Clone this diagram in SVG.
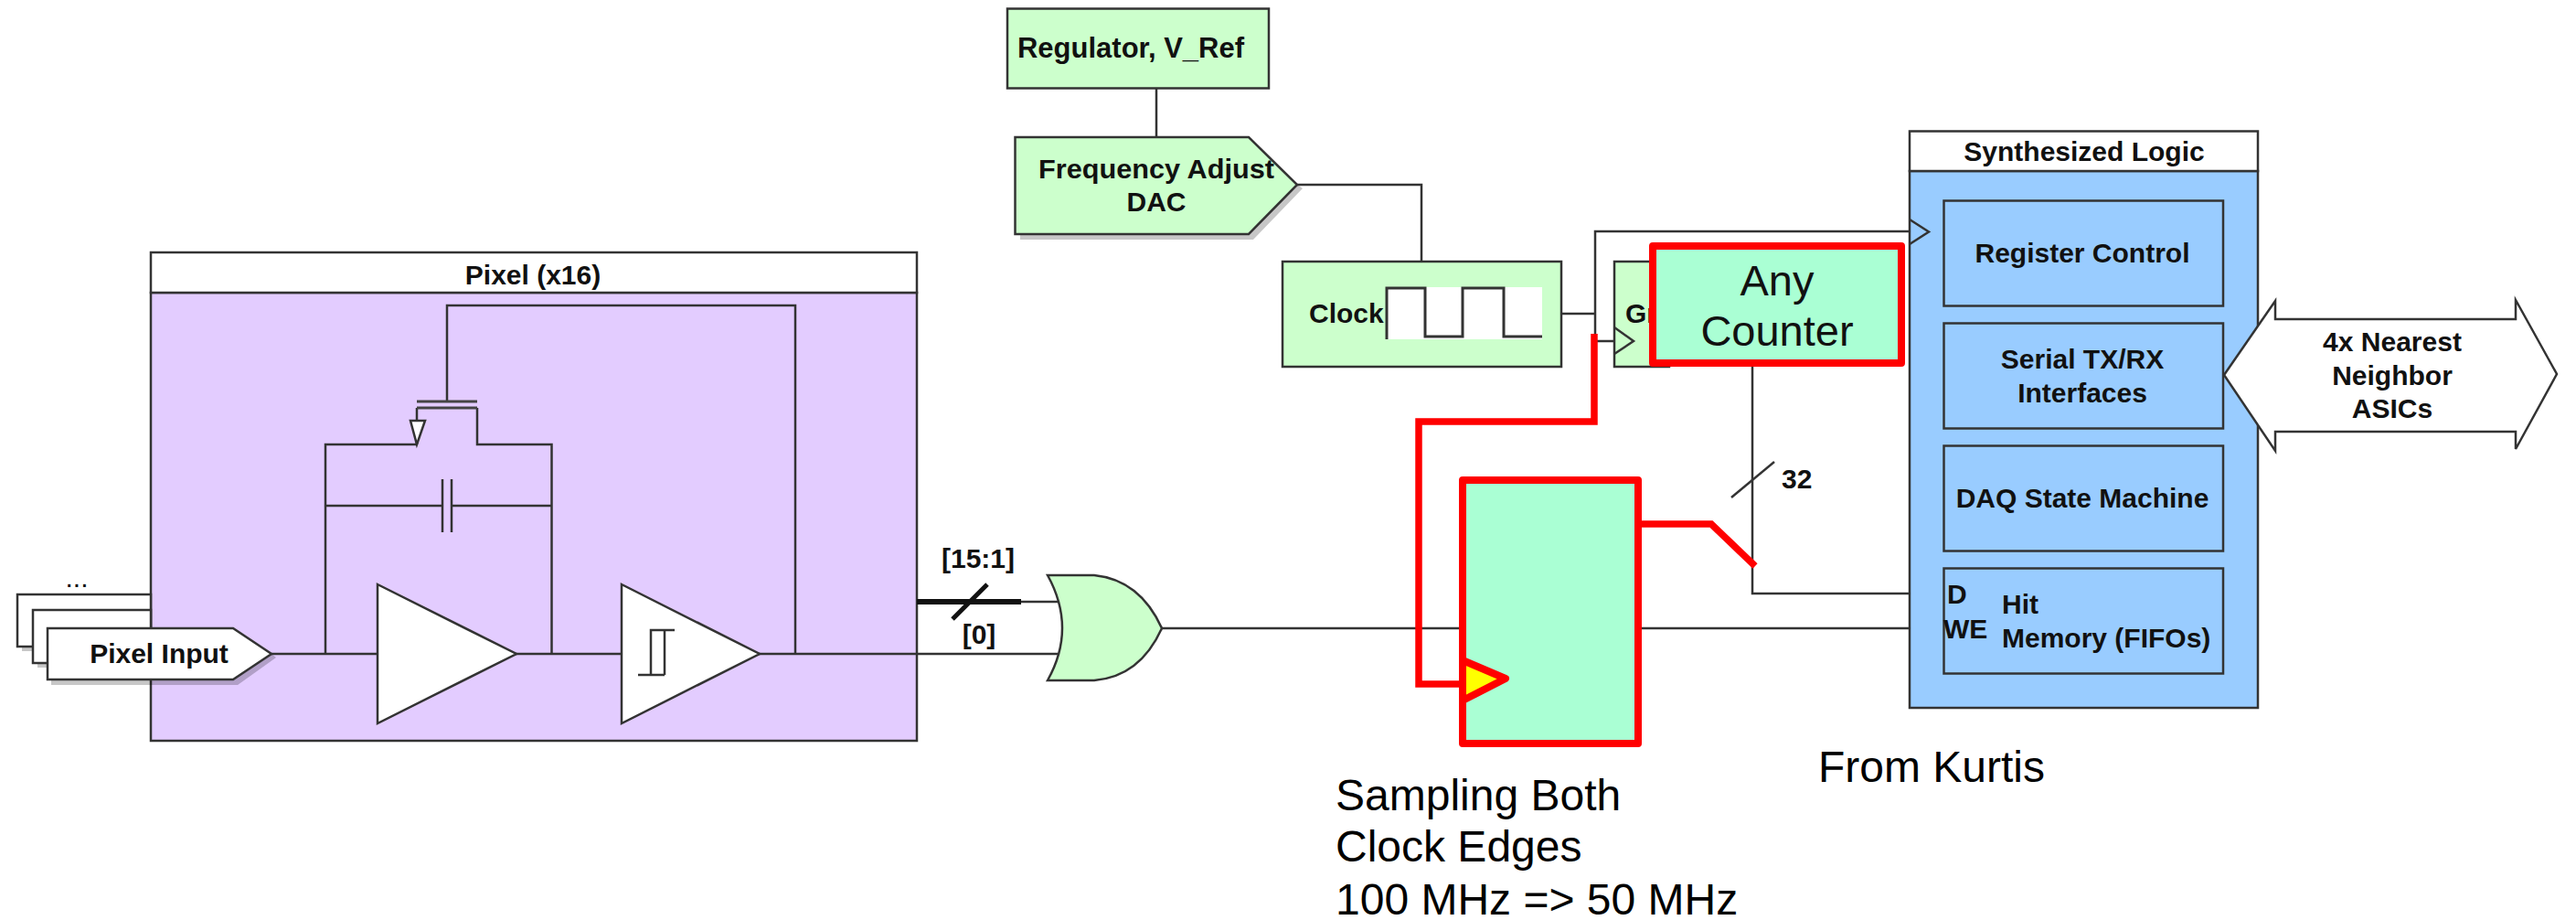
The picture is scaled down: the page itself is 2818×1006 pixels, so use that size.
<svg xmlns="http://www.w3.org/2000/svg" width="2818" height="1006" viewBox="0 0 2818 1006">
<style>
text{font-family:"Liberation Sans",Arial,sans-serif;font-weight:700;font-size:30px;fill:#111;text-anchor:middle}
.s{text-anchor:start}
.p{font-weight:400;font-size:48px;text-anchor:start;fill:#000}
.w{fill:none;stroke:#333;stroke-width:2.500}
.b{stroke:#333;stroke-width:2.500}
.r{fill:none;stroke:#f00;stroke-width:7.500}
.n{fill:#ccffcc}
.l{fill:#99ccff}
.wh{fill:#fff}
.sh{fill:#000;opacity:.22}
</style>
<g id="pixel"><rect class="b" x="165" y="320" width="838" height="490" fill="#e3ccff"/><rect class="b wh" x="165" y="276" width="838" height="44"/><text x="583" y="311">Pixel (x16)</text></g>
<g id="connectors">
<path class="w" d="M297 715H1157M489 439V334H870V715M356 715V486H456M603.500 715V486H522V446M456 446V486M356 553H484M494 553H603.500"/>
<path class="w" d="M484 524V582M494 524V582"/>
<path d="M456 439H522M456 446H522" fill="none" stroke="#444" stroke-width="3"/>
<path d="M1003 658H1117" fill="none" stroke="#111" stroke-width="6"/>
<path class="w" d="M1117 658H1157M1270 687H1600M1796 687H2126M1265 97V150M1419 202H1555V286M1708 343H1745M1745 373V253H2089M1745 373H1766M1917 401V649H2126"/>
<path class="w" d="M1894 544L1941 505"/>
<path d="M1042 677L1080 639" fill="none" stroke="#111" stroke-width="5"/>
</g>
<g id="pixel-input"><path class="sh" d="M24 707H165V712H24ZM41 725H165V730H41Z"/><rect class="b wh" x="19" y="650" width="146" height="57"/><rect class="b wh" x="36" y="667" width="129" height="58"/><path class="sh" d="M56 743H255L297 715L302 719L260 749H56Z"/><path class="b wh" d="M52 687H255L297 715L255 743H52Z"/><text x="174" y="725">Pixel Input</text><text x="84" y="642" style="font-weight:400">...</text></g>
<g id="amp"><path class="b wh" d="M413 639L565 715L413 791Z"/></g>
<g id="comparator"><path class="b wh" d="M680 639L831 715L680 791Z"/><path class="w" d="M738 689H712V738M727 689V738M698 738H727"/></g>
<g id="transistor"><path class="b wh" d="M449 460H465L456 486Z"/></g>
<g id="or-gate"><path class="b n" d="M1146 629H1197Q1247 634 1271 687Q1247 740 1197 744H1146Q1178 687 1146 629Z"/><text x="1070" y="621">[15:1]</text><text x="1071" y="704">[0]</text></g>
<g id="regulator"><rect class="b n" x="1102" y="9.500" width="286" height="87"/><text x="1237" y="63" style="font-size:31px">Regulator, V_Ref</text></g>
<g id="dac"><path class="sh" d="M1116 256H1366L1419 202L1425 206L1371 262H1116Z"/><path class="b n" d="M1110.500 150H1366L1419 202L1366 256H1110.500Z"/><text x="1265" y="195" textLength="258" lengthAdjust="spacingAndGlyphs">Frequency Adjust</text><text x="1265" y="231">DAC</text></g>
<g id="clock"><rect class="b n" x="1403" y="286" width="305" height="115"/><rect class="wh" x="1517" y="314" width="170" height="57"/><path fill="none" stroke="#333" stroke-width="3" d="M1517 371V315H1559V368H1600V315H1645V368H1687"/><text class="s" x="1432" y="353">Clock</text></g>
<g id="gray-counter"><rect class="b n" x="1766" y="286" width="60" height="115"/><text class="s" x="1778" y="353">Gr</text><path class="w" d="M1766 358L1787 373L1766 387"/></g>
<g id="any-counter"><rect x="1808" y="269" width="272" height="128" fill="#aaffd4" stroke="#f00" stroke-width="8" stroke-linejoin="round"/><text x="1944" y="323" style="font-weight:400;font-size:47px">Any</text><text x="1944" y="378" style="font-weight:400;font-size:47px">Counter</text></g>
<g id="synth"><rect class="b l" x="2089" y="187" width="381" height="587"/><rect class="b wh" x="2089" y="143.500" width="381" height="43.500"/><text x="2280" y="176">Synthesized Logic</text><path class="w" d="M2089 240L2110 253.500L2089 267"/></g>
<g id="register-control"><rect class="b l" x="2126.500" y="219.500" width="305.500" height="115"/><text x="2278" y="287">Register Control</text></g>
<g id="serial"><rect class="b l" x="2126.500" y="353.500" width="305.500" height="115"/><text x="2278" y="403">Serial TX/RX</text><text x="2278" y="440">Interfaces</text></g>
<g id="daq"><rect class="b l" x="2126.500" y="487.500" width="305.500" height="115"/><text x="2278" y="555">DAQ State Machine</text></g>
<g id="hit-memory"><rect class="b l" x="2126.500" y="621.500" width="305.500" height="115"/><text class="s" x="2130" y="660">D</text><text class="s" x="2126" y="698">WE</text><text class="s" x="2190" y="671">Hit</text><text class="s" x="2190" y="708">Memory (FIFOs)</text></g>
<g id="neighbor"><path class="b wh" d="M2433 410L2489 329V349H2752V328L2797 409L2752 491V472H2489V493Z"/><text x="2617" y="384">4x Nearest</text><text x="2617" y="421">Neighbor</text><text x="2617" y="457">ASICs</text></g>
<g id="sampler"><rect x="1600" y="525" width="192" height="288" fill="#aaffd4" stroke="#f00" stroke-width="8" stroke-linejoin="round"/><path d="M1600 722L1647 742L1600 766Z" fill="#ff0" stroke="#f00" stroke-width="8" stroke-linejoin="round"/></g>
<g id="red-connectors"><path class="r" d="M1744 365V461H1552V748H1600"/><path class="r" d="M1796 573H1872L1920 619"/></g>
<g id="notes"><text class="p" x="1461" y="886">Sampling Both</text><text class="p" x="1461" y="942">Clock Edges</text><text class="p" x="1461" y="1000">100 MHz =&gt; 50 MHz</text><text class="p" x="1989" y="855">From Kurtis</text></g>
<text x="1949" y="534" class="s">32</text>
</svg>
